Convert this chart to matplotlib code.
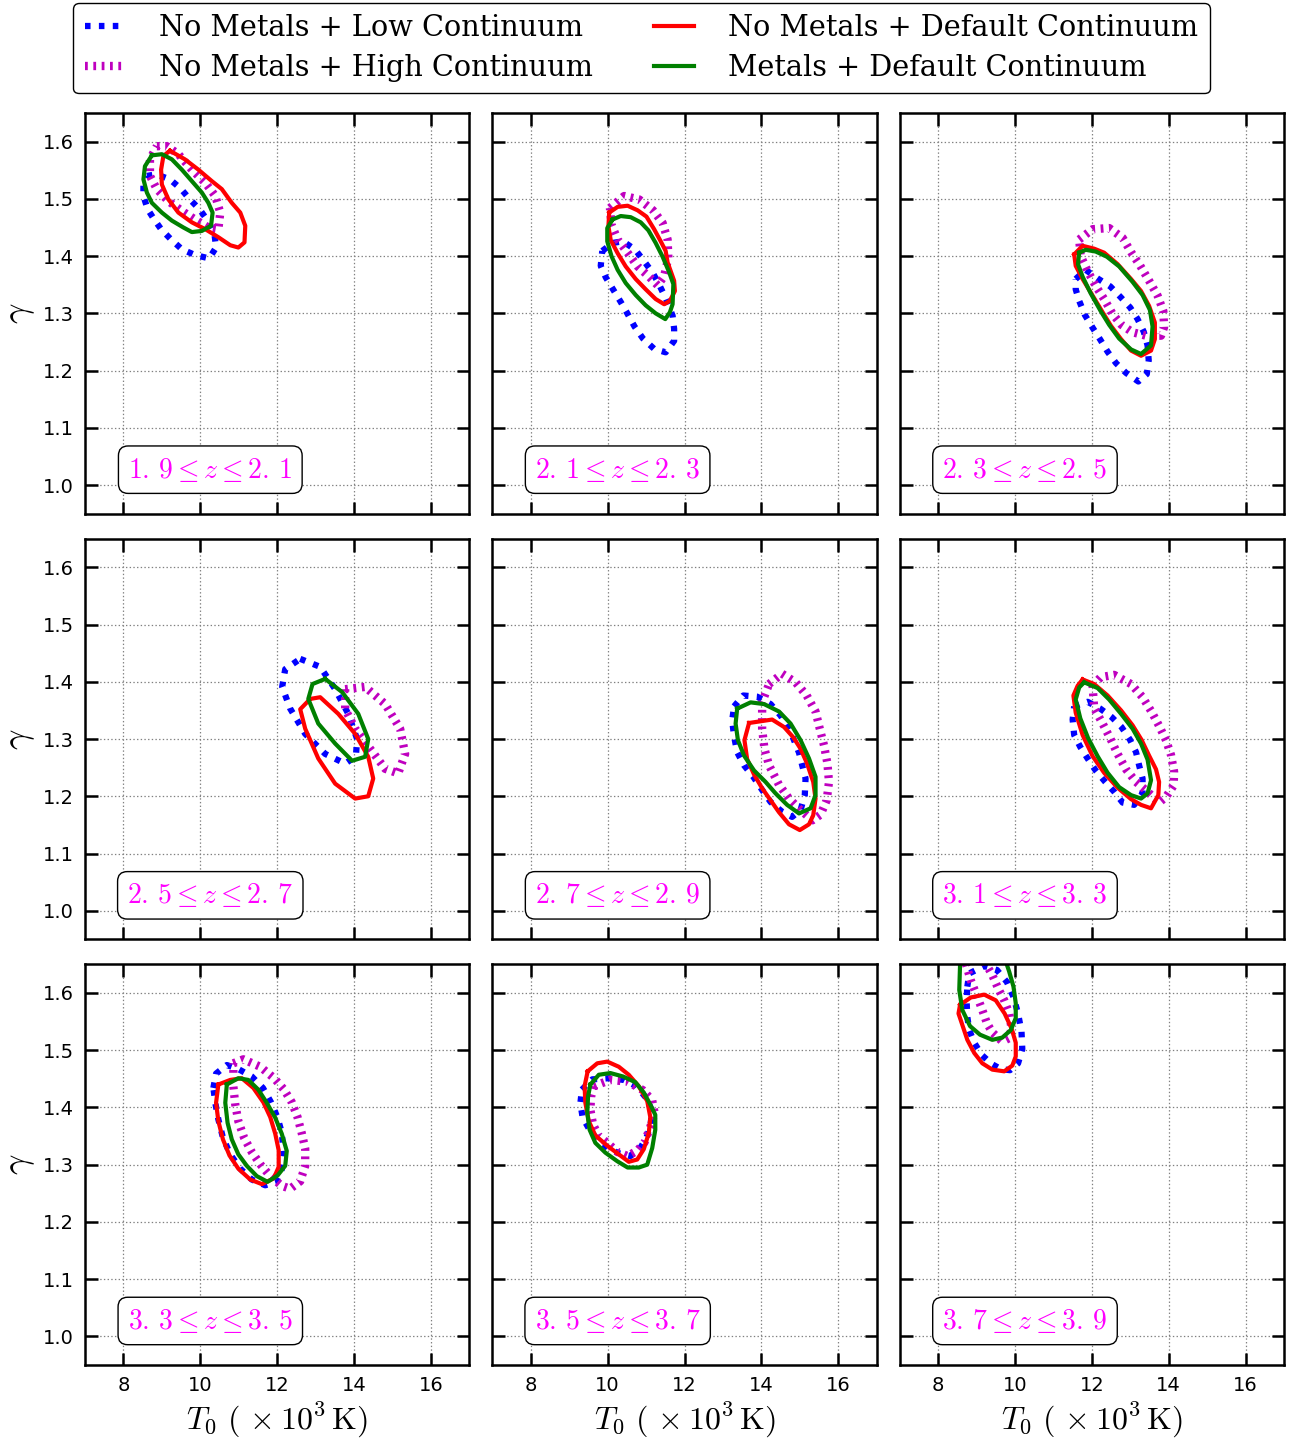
"""
T0 - gamma confidence contours in redshift bins,
for the four metal / continuum treatments
"""
import matplotlib
matplotlib.use('Agg')
import matplotlib.pyplot as plt

plt.rcParams['mathtext.fontset'] = 'cm'
plt.rcParams['lines.scale_dashes'] = False

# redshift bins, one per panel (row by row)
z_bins = [('1.9', '2.1'), ('2.1', '2.3'), ('2.3', '2.5'),
          ('2.5', '2.7'), ('2.7', '2.9'), ('3.1', '3.3'),
          ('3.3', '3.5'), ('3.5', '3.7'), ('3.7', '3.9')]

series_labels = ['No Metals + Low Continuum',
                 'No Metals + High Continuum',
                 'No Metals + Default Continuum',
                 'Metals + Default Continuum']

# contour outlines: (T0 [1e3 K], gamma), one list per panel
low_cont = [
    [(8.61,1.540),(8.85,1.543),(9.21,1.534),(9.49,1.518),(9.73,1.499),(9.99,1.481),(10.19,1.462),(10.37,1.438),(10.41,1.415),(10.23,1.396),(9.86,1.402),(9.52,1.412),(9.24,1.429),(8.98,1.447),(8.78,1.466),(8.63,1.482),(8.52,1.505),(8.52,1.525)],
    [(9.86,1.409),(10.13,1.423),(10.40,1.426),(10.72,1.411),(10.95,1.391),(11.17,1.371),(11.32,1.353),(11.50,1.328),(11.69,1.296),(11.73,1.273),(11.73,1.252),(11.51,1.232),(11.21,1.238),(10.92,1.256),(10.70,1.277),(10.52,1.299),(10.34,1.320),(10.14,1.342),(9.95,1.363),(9.82,1.383)],
    [(11.58,1.360),(11.84,1.376),(12.15,1.361),(12.48,1.347),(12.74,1.329),(13.00,1.310),(13.19,1.290),(13.35,1.268),(13.45,1.244),(13.48,1.218),(13.43,1.194),(13.21,1.181),(12.89,1.196),(12.63,1.213),(12.41,1.233),(12.22,1.254),(12.02,1.275),(11.82,1.297),(11.67,1.322),(11.58,1.342)],
    [(12.60,1.440),(13.12,1.426),(13.51,1.387),(13.85,1.344),(14.08,1.300),(14.05,1.270),(13.77,1.257),(13.25,1.274),(12.73,1.309),(12.34,1.353),(12.13,1.391),(12.21,1.422)],
    [(13.29,1.357),(13.53,1.376),(13.89,1.374),(14.24,1.361),(14.50,1.341),(14.76,1.313),(14.98,1.276),(15.15,1.231),(15.13,1.202),(15.02,1.176),(14.80,1.164),(14.54,1.173),(14.24,1.190),(14.02,1.211),(13.79,1.234),(13.55,1.254),(13.37,1.277),(13.29,1.305),(13.24,1.332)],
    [(11.54,1.357),(11.89,1.365),(12.22,1.353),(12.52,1.338),(12.77,1.321),(12.99,1.299),(13.15,1.277),(13.23,1.254),(13.32,1.231),(13.32,1.205),(13.10,1.185),(12.80,1.189),(12.58,1.208),(12.35,1.225),(12.10,1.245),(11.89,1.266),(11.70,1.286),(11.54,1.307),(11.50,1.334)],
    [(10.34,1.434),(10.41,1.459),(10.69,1.474),(10.99,1.467),(11.34,1.454),(11.63,1.434),(11.84,1.409),(12.01,1.382),(12.12,1.356),(12.17,1.318),(12.12,1.292),(11.97,1.270),(11.69,1.264),(11.34,1.274),(11.04,1.293),(10.78,1.318),(10.59,1.347),(10.47,1.379),(10.39,1.408)],
    [(9.33,1.431),(9.60,1.449),(10.03,1.451),(10.42,1.448),(10.75,1.437),(11.01,1.416),(11.16,1.393),(11.11,1.367),(11.01,1.347),(10.84,1.328),(10.59,1.315),(10.29,1.320),(10.03,1.328),(9.74,1.343),(9.53,1.361),(9.35,1.382),(9.29,1.407)],
    [(8.76,1.611),(8.81,1.634),(9.20,1.647),(9.53,1.640),(9.79,1.619),(9.96,1.593),(10.08,1.564),(10.17,1.532),(10.19,1.502),(10.08,1.477),(9.87,1.465),(9.63,1.467),(9.39,1.476),(9.13,1.492),(8.94,1.513),(8.81,1.535),(8.76,1.558),(8.74,1.587)],
]

high_cont = [
    [(8.87,1.592),(9.13,1.592),(9.43,1.578),(9.78,1.551),(10.13,1.528),(10.39,1.505),(10.52,1.476),(10.47,1.447),(10.21,1.450),(9.86,1.464),(9.52,1.479),(9.17,1.496),(8.87,1.517),(8.69,1.540),(8.69,1.569)],
    [(10.06,1.484),(10.43,1.505),(10.82,1.499),(11.18,1.480),(11.43,1.458),(11.56,1.429),(11.58,1.397),(11.47,1.365),(11.30,1.349),(11.08,1.364),(10.78,1.382),(10.52,1.406),(10.26,1.429),(10.10,1.455)],
    [(11.67,1.429),(12.02,1.447),(12.45,1.449),(12.80,1.432),(13.02,1.407),(13.26,1.383),(13.49,1.357),(13.71,1.331),(13.86,1.304),(13.88,1.276),(13.80,1.261),(13.41,1.261),(13.06,1.267),(12.77,1.280),(12.54,1.299),(12.32,1.325),(12.10,1.348),(11.89,1.374),(11.71,1.400)],
    [(13.77,1.387),(14.29,1.391),(14.81,1.361),(15.20,1.318),(15.33,1.274),(15.15,1.240),(14.81,1.248),(14.42,1.283),(14.03,1.318),(13.77,1.352)],
    [(14.20,1.396),(14.54,1.414),(14.89,1.399),(15.18,1.376),(15.41,1.348),(15.52,1.318),(15.63,1.289),(15.72,1.257),(15.76,1.225),(15.70,1.193),(15.54,1.168),(15.33,1.158),(15.02,1.176),(14.72,1.196),(14.46,1.220),(14.20,1.254),(14.08,1.283),(14.02,1.318),(14.02,1.364)],
    [(12.02,1.393),(12.23,1.408),(12.58,1.412),(13.02,1.396),(13.32,1.373),(13.55,1.348),(13.75,1.323),(13.93,1.298),(14.06,1.272),(14.14,1.243),(14.13,1.219),(13.93,1.199),(13.75,1.189),(13.45,1.208),(13.15,1.225),(12.89,1.247),(12.67,1.274),(12.48,1.301),(12.28,1.327),(12.06,1.354)],
    [(10.86,1.477),(11.12,1.484),(11.56,1.471),(11.92,1.451),(12.17,1.432),(12.38,1.409),(12.53,1.383),(12.64,1.355),(12.73,1.328),(12.73,1.298),(12.60,1.271),(12.34,1.258),(12.12,1.263),(11.82,1.280),(11.58,1.299),(11.34,1.322),(11.14,1.347),(10.99,1.376),(10.91,1.405),(10.86,1.437)],
    [(9.64,1.437),(10.07,1.448),(10.52,1.445),(10.92,1.430),(11.16,1.412),(11.22,1.391),(11.11,1.366),(10.96,1.339),(10.78,1.325),(10.52,1.315),(10.26,1.322),(9.99,1.338),(9.77,1.350),(9.62,1.370),(9.55,1.396),(9.57,1.419)],
    [(8.72,1.651),(8.85,1.622),(9.02,1.593),(9.15,1.570),(9.27,1.547),(9.41,1.531),(9.67,1.515),(9.85,1.521),(9.91,1.538),(9.85,1.564),(9.72,1.587),(9.56,1.608),(9.41,1.631),(9.24,1.651),(8.94,1.666)],
]

default_cont = [
    [(9.21,1.584),(9.60,1.569),(9.95,1.551),(10.30,1.531),(10.56,1.517),(10.82,1.493),(11.04,1.476),(11.17,1.453),(11.15,1.424),(10.99,1.415),(10.78,1.419),(10.47,1.433),(10.13,1.447),(9.78,1.459),(9.43,1.476),(9.17,1.499),(9.00,1.525),(8.98,1.551),(9.04,1.575)],
    [(10.04,1.476),(10.26,1.486),(10.52,1.488),(10.78,1.480),(11.01,1.469),(11.21,1.447),(11.38,1.426),(11.51,1.409),(11.56,1.389),(11.73,1.357),(11.75,1.339),(11.62,1.322),(11.47,1.316),(11.25,1.325),(10.99,1.342),(10.73,1.360),(10.47,1.382),(10.26,1.405),(10.08,1.428),(10.02,1.452)],
    [(11.54,1.403),(11.76,1.418),(12.06,1.413),(12.32,1.406),(12.67,1.386),(13.02,1.360),(13.28,1.339),(13.49,1.313),(13.64,1.284),(13.64,1.255),(13.54,1.235),(13.28,1.226),(13.02,1.235),(12.76,1.255),(12.50,1.278),(12.28,1.302),(12.02,1.331),(11.76,1.360),(11.58,1.383)],
    [(12.86,1.370),(13.12,1.373),(13.59,1.344),(14.03,1.309),(14.37,1.269),(14.50,1.231),(14.37,1.200),(14.03,1.196),(13.51,1.222),(13.07,1.266),(12.73,1.318),(12.60,1.352)],
    [(13.68,1.328),(13.98,1.331),(14.28,1.334),(14.59,1.321),(14.83,1.303),(15.02,1.283),(15.19,1.257),(15.35,1.225),(15.41,1.196),(15.35,1.167),(15.24,1.151),(15.00,1.141),(14.72,1.151),(14.46,1.172),(14.24,1.193),(14.02,1.214),(13.81,1.238),(13.63,1.265),(13.56,1.298)],
    [(11.76,1.404),(12.06,1.396),(12.41,1.376),(12.76,1.350),(13.06,1.324),(13.29,1.299),(13.49,1.271),(13.67,1.247),(13.75,1.225),(13.73,1.202),(13.54,1.179),(13.28,1.185),(13.02,1.195),(12.67,1.215),(12.32,1.241),(12.02,1.270),(11.76,1.307),(11.58,1.346),(11.52,1.376),(11.63,1.393)],
    [(10.47,1.440),(10.78,1.448),(11.08,1.451),(11.38,1.434),(11.64,1.409),(11.82,1.383),(11.95,1.354),(12.04,1.325),(12.04,1.296),(11.91,1.276),(11.60,1.266),(11.30,1.274),(10.99,1.293),(10.76,1.316),(10.59,1.344),(10.47,1.376),(10.41,1.408)],
    [(9.48,1.463),(9.73,1.477),(9.99,1.480),(10.29,1.471),(10.55,1.457),(10.81,1.437),(11.03,1.411),(11.11,1.383),(11.07,1.355),(10.94,1.327),(10.77,1.309),(10.55,1.305),(10.29,1.318),(9.99,1.333),(9.68,1.351),(9.51,1.376),(9.42,1.408),(9.40,1.437)],
    [(8.57,1.579),(8.85,1.592),(9.20,1.597),(9.50,1.587),(9.73,1.564),(9.91,1.538),(10.02,1.513),(10.02,1.489),(9.93,1.473),(9.72,1.463),(9.41,1.466),(9.15,1.477),(8.94,1.495),(8.76,1.518),(8.63,1.544),(8.53,1.564)],
]

metals_cont = [
    [(8.74,1.576),(9.00,1.578),(9.26,1.569),(9.52,1.551),(9.78,1.531),(10.04,1.511),(10.21,1.493),(10.32,1.476),(10.28,1.453),(10.04,1.444),(9.78,1.442),(9.56,1.450),(9.26,1.462),(9.00,1.476),(8.74,1.493),(8.61,1.511),(8.52,1.534),(8.56,1.557)],
    [(10.13,1.464),(10.34,1.470),(10.60,1.468),(10.86,1.459),(11.06,1.445),(11.25,1.423),(11.43,1.399),(11.60,1.372),(11.71,1.351),(11.69,1.316),(11.62,1.302),(11.50,1.290),(11.25,1.300),(10.99,1.314),(10.73,1.332),(10.47,1.353),(10.26,1.376),(10.10,1.400),(9.99,1.426),(9.99,1.449)],
    [(11.67,1.406),(11.84,1.411),(12.10,1.408),(12.39,1.399),(12.71,1.382),(13.06,1.355),(13.32,1.332),(13.51,1.306),(13.58,1.277),(13.54,1.244),(13.28,1.229),(13.02,1.237),(12.71,1.256),(12.45,1.280),(12.23,1.304),(11.97,1.335),(11.76,1.364),(11.64,1.386)],
    [(13.25,1.405),(13.69,1.382),(14.11,1.344),(14.37,1.300),(14.29,1.269),(13.95,1.262),(13.51,1.292),(13.07,1.327),(12.81,1.370),(12.92,1.396)],
    [(13.37,1.353),(13.72,1.364),(14.07,1.361),(14.46,1.348),(14.76,1.327),(15.02,1.298),(15.24,1.266),(15.41,1.234),(15.41,1.202),(15.28,1.179),(14.98,1.170),(14.67,1.185),(14.37,1.205),(14.11,1.225),(13.81,1.245),(13.55,1.271),(13.39,1.298),(13.33,1.327)],
    [(11.80,1.399),(12.15,1.389),(12.45,1.369),(12.76,1.344),(13.06,1.318),(13.28,1.292),(13.45,1.264),(13.54,1.228),(13.45,1.205),(13.28,1.196),(13.02,1.202),(12.71,1.216),(12.41,1.241),(12.15,1.270),(11.90,1.302),(11.70,1.336),(11.58,1.369),(11.67,1.390)],
    [(10.69,1.440),(10.99,1.451),(11.25,1.448),(11.51,1.431),(11.73,1.408),(11.95,1.382),(12.12,1.354),(12.25,1.324),(12.21,1.298),(12.01,1.281),(11.75,1.270),(11.47,1.280),(11.21,1.298),(10.99,1.318),(10.82,1.344),(10.71,1.373),(10.65,1.408)],
    [(9.55,1.440),(9.77,1.457),(10.07,1.460),(10.40,1.454),(10.72,1.444),(10.94,1.426),(11.11,1.405),(11.24,1.387),(11.24,1.361),(11.16,1.329),(11.03,1.300),(10.81,1.295),(10.52,1.295),(10.25,1.306),(9.94,1.321),(9.68,1.338),(9.53,1.361),(9.47,1.390),(9.49,1.419)],
    [(8.63,1.674),(8.57,1.648),(8.55,1.605),(8.63,1.570),(8.83,1.542),(9.09,1.527),(9.41,1.518),(9.67,1.522),(9.89,1.535),(10.02,1.556),(10.02,1.582),(9.96,1.611),(9.85,1.637),(9.72,1.663),(9.20,1.680)],
]

# line styles: (contours, color, width, dash pattern in points)
styles = [(low_cont, 'b', 4.5, (0, (4, 6))),
          (high_cont, 'm', 6.0, (0, (2.0, 4.0))),
          (default_cont, 'r', 3.0, '-'),
          (metals_cont, 'g', 3.0, '-')]

fig, axes = plt.subplots(3, 3, figsize=(12.92, 14.41), dpi=100,
                         sharex=True, sharey=True)
fig.subplots_adjust(left=0.0658, right=0.9938, top=0.9216, bottom=0.0527,
                    wspace=0.06, hspace=0.062)

handles = []
for k, ax in enumerate(axes.flat):
    for (conts, col, lw, ls) in styles:
        pts = conts[k] + [conts[k][0]]
        xs = [p[0] for p in pts]
        ys = [p[1] for p in pts]
        ln, = ax.plot(xs, ys, color=col, lw=lw, linestyle=ls,
                      dash_capstyle='butt', solid_joinstyle='round')
        if k == 0:
            handles.append(ln)

    ax.set_xlim(7, 17)
    ax.set_ylim(0.95, 1.65)
    ax.set_xticks([8, 10, 12, 14, 16])
    ax.set_yticks([1.0, 1.1, 1.2, 1.3, 1.4, 1.5, 1.6])
    ax.grid(True, color='gray', linestyle=':', lw=0.9)
    ax.tick_params(direction='in', length=9, width=1.8, top=True, right=True,
                   labelsize=14, pad=8)
    for sp in ax.spines.values():
        sp.set_linewidth(1.8)

    zlo, zhi = z_bins[k]
    zlo_txt = zlo.replace('.', r'.\,')
    zhi_txt = zhi.replace('.', r'.\,')
    ax.text(0.326, 0.11, r'$%s \leq z \leq %s$' % (zlo_txt, zhi_txt),
            transform=ax.transAxes, ha='center', va='center',
            fontsize=20, color='#ff00ff',
            bbox=dict(boxstyle='round,pad=0.35', fc='white', ec='black', lw=1))

for ax in axes[-1, :]:
    ax.set_xlabel(r'$T_0\ (\,\times 10^3\,\mathrm{K})$', fontsize=23)
for ax in axes[:, 0]:
    ax.set_ylabel(r'$\gamma$', fontsize=26)

fig.legend(handles, series_labels, loc='upper center',
           bbox_to_anchor=(0.4965, 1.0), ncol=2,
           prop={'family': 'DejaVu Serif', 'size': 20.7},
           handlelength=1.4, handletextpad=1.2, columnspacing=2.1,
           labelspacing=0.4, borderaxespad=0.1, borderpad=0.4,
           fancybox=True, framealpha=1, edgecolor='black')

fig.savefig('out.png', dpi=100)
